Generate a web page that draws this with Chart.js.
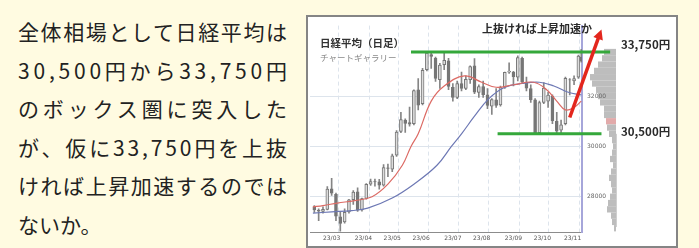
<!DOCTYPE html>
<html>
<head>
<meta charset="utf-8">
<script src="https://cdn.jsdelivr.net/npm/chart.js@4.4.1/dist/chart.umd.min.js"></script>
<style>
  body { margin: 0; width: 699px; height: 248px; overflow: hidden; position: relative; background: #fffbe1; font-family: "Noto Sans CJK JP", sans-serif; }
  #lead { position: absolute; left: 18px; top: 12px; width: 269px; color: #222; font-size: 21px; }
  #lead div { height: 38.5px; line-height: 38.5px; white-space: nowrap; }
  #lead span { display: inline-block; }
  #box { position: absolute; left: 306px; top: 15px; width: 372px; height: 233px; border: 2px solid #858585; box-sizing: border-box; background: #fff; }
  #c { position: absolute; left: 0; top: 0; }
  .t { position: absolute; white-space: nowrap; color: #2a2a2a; }
</style>
</head>
<body>
<div id="lead">
  <div><span class="fit">全体相場として日経平均は</span></div>
  <div><span class="fit">30,500円から33,750円</span></div>
  <div><span class="fit">のボックス圏に突入した</span></div>
  <div><span class="fit">が、仮に33,750円を上抜</span></div>
  <div><span class="fit">ければ上昇加速するのでは</span></div>
  <div><span>ないか。</span></div>
</div>
<div id="box"><canvas id="c" width="368" height="229"></canvas></div>
<div class="t" style="left:320px;top:36px;font-size:10.5px;line-height:14px;font-weight:bold;color:#333">日経平均（日足）</div>
<div class="t" style="left:320px;top:51px;font-size:8.5px;line-height:12px;color:#888">チャートギャラリー</div>
<div class="t" style="left:482px;top:21px;font-size:11px;line-height:14px;font-weight:bold">上抜ければ上昇加速か</div>
<div class="t" style="left:621px;top:37px;font-size:11.5px;line-height:14px;font-weight:bold">33,750円</div>
<div class="t" style="left:621px;top:124px;font-size:11.5px;line-height:14px;font-weight:bold">30,500円</div>
<script>
// stretch each full line of the lead text to the column width
document.querySelectorAll('#lead .fit').forEach(function (s) {
  var n = Array.from(s.textContent).length;
  var w = s.getBoundingClientRect().width;
  s.style.letterSpacing = ((269 - w) / (n - 1)) + 'px';
});

// trading day index, 0 = 2023/03/01; one candle per ~3 sessions
var candleDays = [-6,-3,0,3,6,9,12,15,18,21,24,27,30,33,36,39,42,45,48,51,54,57,60,63,66,69,72,75,78,81,84,87,90,93,96,99,102,105,108,111,114,117,120,123,126,129,132,135,138,141,144,147,150,153,156,159,162,165,168,171,174,177,179];
var opens  = [27600,27470,27420,27500,28320,28100,27200,27000,27400,27880,28200,27480,27930,28500,28600,28590,28460,29150,29100,29650,30600,31050,30950,30900,32250,31700,33050,33650,33500,32650,33250,33400,32350,31950,32500,32300,32650,33200,32150,32380,32050,31600,31850,31650,32350,32950,32950,32750,33500,32550,32300,31850,30550,31750,31800,32000,31000,30650,30900,32650,32600,32750,33550];
var highs  = [27650,27520,27600,28400,28734,28150,27400,27520,27900,28250,28350,27950,28520,28700,28700,28690,29280,29300,29700,30630,31350,31100,31560,32250,32700,33100,33770,33770,33550,33300,33772,33500,32500,32600,32950,32800,33200,33490,32450,32600,32300,31900,32300,32400,32950,33320,32980,33600,33550,32750,32450,31900,31800,32533,32150,32050,31350,31050,32750,32700,32800,33630,33853];
var lows   = [27380,27050,27350,27480,28050,27050,26632,26950,27350,27700,27420,27430,27900,28450,28420,28300,28420,28800,29000,29600,30550,30560,30800,30850,31450,31650,33000,33100,32580,32300,33050,32250,31800,31900,32200,32250,32500,32100,31950,31950,31500,31275,31550,31600,32300,32900,32400,32600,32500,32200,31750,30487,30550,31700,31550,30900,30538,30550,30850,32050,32450,32700,33350];
var closes = [27473,27423,27498,28309,28143,27229,26945,27385,27883,28188,27472,27923,28493,28606,28593,28457,29157,29122,29626,30573,31066,30916,30888,32217,31641,33018,33706,33575,32698,33234,33422,32388,31943,32493,32304,32668,33172,32159,32377,32059,31626,31856,31624,32333,32939,32991,32776,33533,32571,32315,31857,30526,31746,32315,32042,31019,30601,30858,32708,32646,32695,33585,33388];

// moving averages
var ma25Days   = [-7,0,10,22,34,45,55,61,66,75,84,98,110,120,132,146,155,162,168,174,179];
var ma25Values = [27600,27650,27750,27850,28000,28500,29250,30000,30500,31800,32400,32800,32550,32350,32450,32550,32250,31800,31450,31550,31800];
var ma75Days   = [-7,6,20,31,48,63,79,89,96,105,115,126,138,150,160,170,179];
var ma75Values = [27350,27400,27450,27550,27950,28500,29250,30000,30500,31200,31900,32350,32500,32550,32400,32150,32050];

// price-by-volume profile on the right
var profilePrices  = [33750,33500,33250,33000,32750,32500,32250,32000,31750,31500,31250,31000,30750,30500,30250,30000,29750,29500,29250,29000,28750,28500,28250,28000,27750,27500,27250,27000,26750];
var profileVolumes = [12,14,18,22,26,24,20,18,16,12,12,10,9,7,4,3,4,6,3,5,7,5,4,6,8,9,5,4,2];
var profileHighlight = 31000;

// axis ticks
var monthDays   = [0,22,42,62,84,104,126,146,167];
var monthLabels = ['23/03','23/04','23/05','23/06','23/07','23/08','23/09','23/10','23/11'];
var priceTicks  = [28000,30000,32000];

// box range and arrow
var boxTop = 33750, boxBottom = 30500;
var boxTopFrom = 61, boxTopTo = 199, boxBottomFrom = 121, boxBottomTo = 193;
var arrowFrom = {x: 171, y: 31150}, arrowTo = {x: 193, y: 34650};

var wickData = candleDays.map(function (d, i) { return {x: d, y: [lows[i], highs[i]]}; });
var bodyData = candleDays.map(function (d, i) { return {x: d, y: [Math.min(opens[i], closes[i]), Math.max(opens[i], closes[i])]}; });
var bodyFill = candleDays.map(function (d, i) { return closes[i] >= opens[i] ? '#dcdcdc' : '#767676'; });

var overlay = {
  id: 'overlay',
  beforeDraw: function (chart) {
    var ctx = chart.ctx, y = chart.scales.y, x0 = chart.chartArea.right + 34;
    ctx.save();
    profilePrices.forEach(function (p, i) {
      var t = y.getPixelForValue(p + 125), b = y.getPixelForValue(p - 125);
      ctx.fillStyle = p === profileHighlight ? '#e2aaaa' : '#bdbdbd';
      ctx.fillRect(x0 - profileVolumes[i], t, profileVolumes[i], b - t);
    });
    ctx.strokeStyle = '#cfcfcf';
    ctx.lineWidth = 1;
    ctx.beginPath();
    ctx.moveTo(x0 + 0.5, y.getPixelForValue(boxBottom));
    ctx.lineTo(x0 + 0.5, y.getPixelForValue(26800));
    ctx.stroke();
    ctx.restore();
  },
  afterDatasetsDraw: function (chart) {
    var ctx = chart.ctx, x = chart.scales.x, y = chart.scales.y;
    ctx.save();
    ctx.strokeStyle = '#35a83b';
    ctx.lineWidth = 3;
    ctx.beginPath();
    ctx.moveTo(x.getPixelForValue(boxTopFrom), y.getPixelForValue(boxTop));
    ctx.lineTo(x.getPixelForValue(boxTopTo), y.getPixelForValue(boxTop));
    ctx.moveTo(x.getPixelForValue(boxBottomFrom), y.getPixelForValue(boxBottom));
    ctx.lineTo(x.getPixelForValue(boxBottomTo), y.getPixelForValue(boxBottom));
    ctx.stroke();

    // red arrow
    var ax = x.getPixelForValue(arrowFrom.x), ay = y.getPixelForValue(arrowFrom.y);
    var bx = x.getPixelForValue(arrowTo.x), by = y.getPixelForValue(arrowTo.y);
    var ang = Math.atan2(by - ay, bx - ax), head = 10;
    ctx.strokeStyle = '#e3261d';
    ctx.fillStyle = '#e3261d';
    ctx.lineWidth = 3.5;
    ctx.beginPath();
    ctx.moveTo(ax, ay);
    ctx.lineTo(bx - Math.cos(ang) * head * 0.8, by - Math.sin(ang) * head * 0.8);
    ctx.stroke();
    ctx.beginPath();
    ctx.moveTo(bx, by);
    ctx.lineTo(bx - Math.cos(ang) * head + Math.sin(ang) * 5, by - Math.sin(ang) * head - Math.cos(ang) * 5);
    ctx.lineTo(bx - Math.cos(ang) * head - Math.sin(ang) * 5, by - Math.sin(ang) * head + Math.cos(ang) * 5);
    ctx.closePath();
    ctx.fill();
    ctx.restore();
  }
};

var ctx = document.getElementById('c').getContext('2d');
var chart = new Chart(ctx, {
  type: 'bar',
  data: {
    datasets: [{
      type: 'line',
      data: ma25Days.map(function (d, i) { return {x: d, y: ma25Values[i]}; }),
      borderColor: '#dc6a64',
      borderWidth: 1.2,
      pointRadius: 0,
      tension: 0.4,
      order: 1
    }, {
      type: 'line',
      data: ma75Days.map(function (d, i) { return {x: d, y: ma75Values[i]}; }),
      borderColor: '#6d78b4',
      borderWidth: 1.2,
      pointRadius: 0,
      tension: 0.4,
      order: 1
    }, {
      data: bodyData,
      backgroundColor: bodyFill,
      borderColor: '#767676',
      borderWidth: 1,
      borderSkipped: false,
      barThickness: 3,
      grouped: false,
      order: 2
    }, {
      data: wickData,
      backgroundColor: '#858585',
      barThickness: 1,
      grouped: false,
      order: 3
    }]
  },
  options: {
    responsive: false,
    animation: false,
    layout: { padding: { left: 2, top: 0, right: 0, bottom: 0 } },
    plugins: { legend: { display: false }, tooltip: { enabled: false } },
    scales: {
      x: {
        type: 'linear',
        offset: false,
        min: -9,
        max: 179.5,
        afterBuildTicks: function (s) { s.ticks = monthDays.map(function (v) { return {value: v}; }); },
        afterFit: function (s) { s.height = 14; },
        grid: { color: '#dde4ec', drawTicks: false },
        border: { color: '#8c8c8c', dash: [4, 3] },
        ticks: {
          align: 'start',
          maxRotation: 0,
          autoSkip: false,
          padding: 3,
          color: '#555',
          font: { size: 6, family: 'DejaVu Sans' },
          callback: function (v, i) { return monthLabels[i]; }
        }
      },
      y: {
        position: 'right',
        min: 26600,
        max: 34800,
        afterBuildTicks: function (s) { s.ticks = priceTicks.map(function (v) { return {value: v}; }); },
        afterFit: function (s) { s.width = 94; },
        grid: { color: '#dde4ec', drawTicks: false },
        border: { color: '#a6a6da', width: 2 },
        ticks: {
          padding: 5,
          color: '#666',
          font: { size: 6, family: 'DejaVu Sans' },
          callback: function (v) { return String(v); }
        }
      }
    }
  },
  plugins: [overlay]
});
</script>
</body>
</html>
